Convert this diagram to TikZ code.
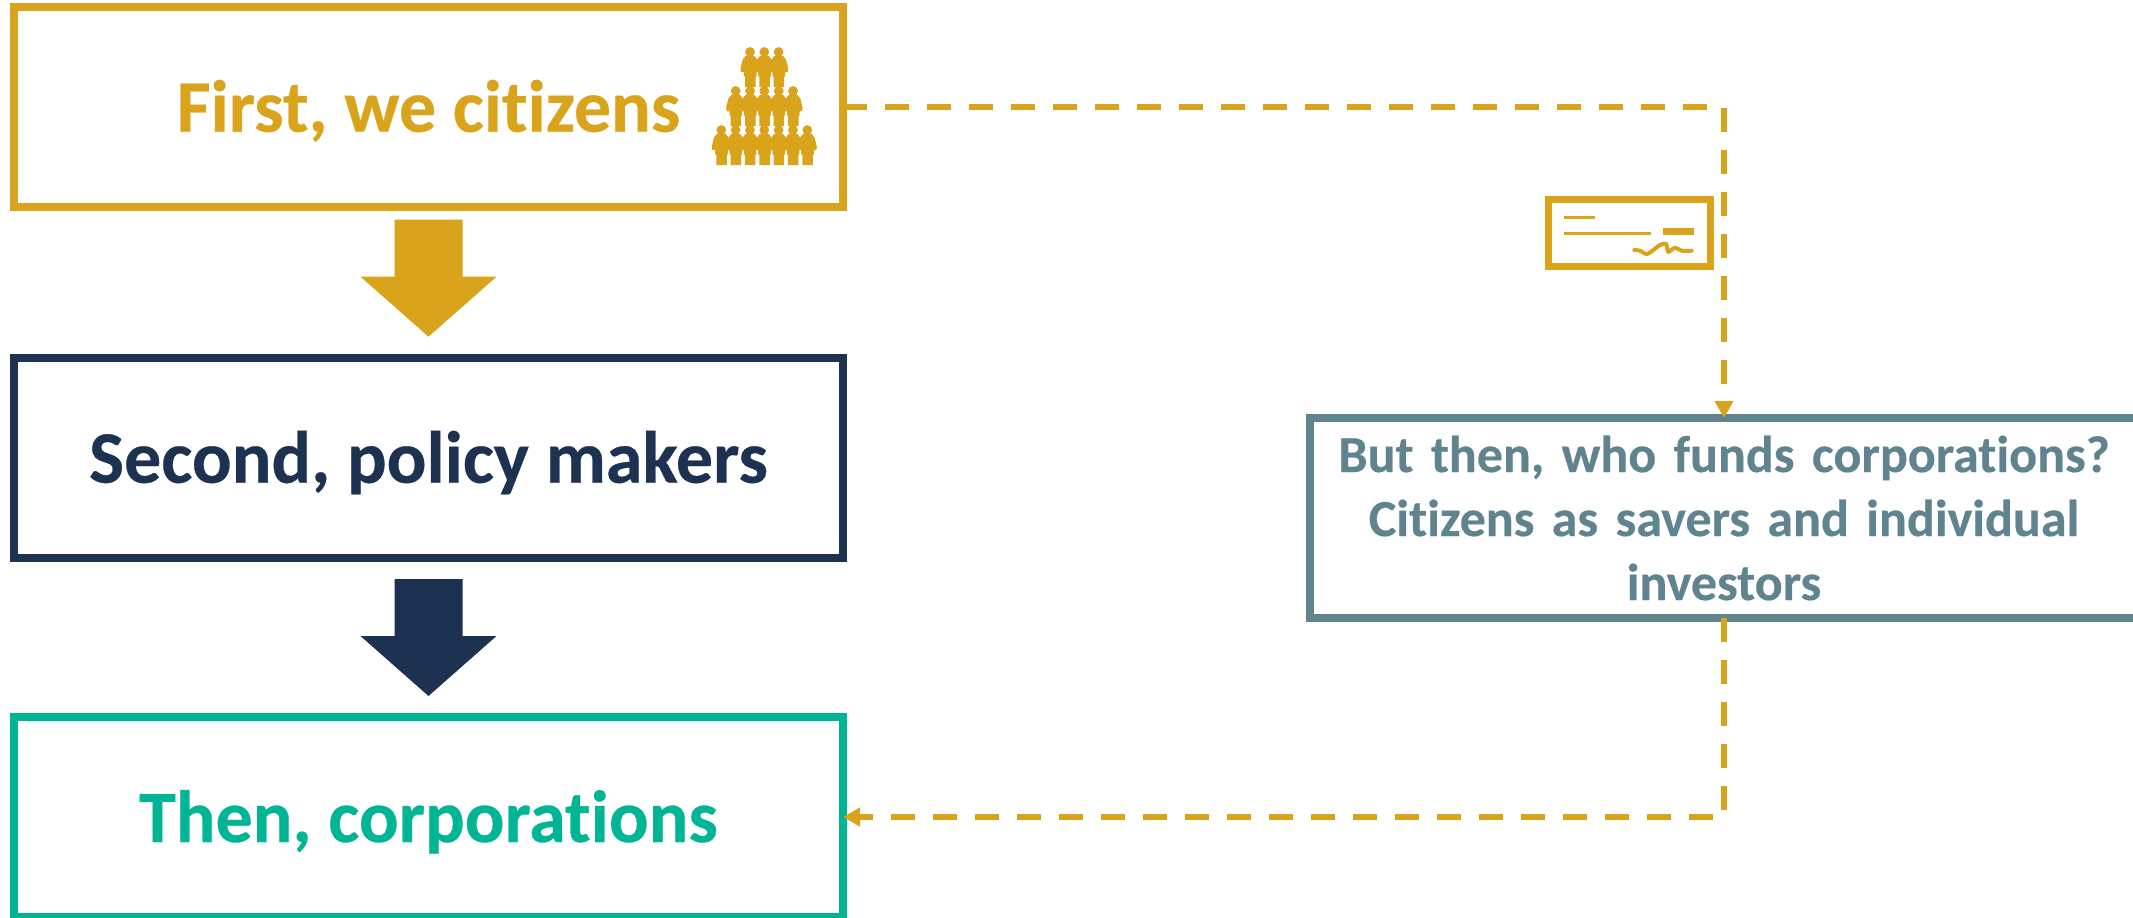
\documentclass[tikz,border=0pt]{standalone}
\usepackage{fontspec}
\usepackage{xcolor}
\usetikzlibrary{arrows.meta}
\setmainfont[Ligatures=CommonOff, BoldFeatures={FakeBold=0.4}]{Carlito}
\definecolor{citizengold}{HTML}{D9A41B}
\definecolor{policynavy}{HTML}{1D3150}
\definecolor{corpteal}{HTML}{00B593}
\definecolor{fundslate}{HTML}{5F8490}
\newcommand{\blockarrow}[2]{
    \fill[#2] ([yshift=10.5pt]#1.north) -- ++(68,-60) -- ++(-34,0) -- ++(0,-57) -- ++(-68,0) -- ++(0,57) -- ++(-34,0) -- cycle;
}
\tikzset{
    flowbox/.style={draw, line width=4pt, outer sep=0pt, minimum width=414.5pt, minimum height=100pt},
    flowtext/.style={font=\bfseries\fontsize{37}{43}\selectfont, text height=25pt, text depth=0pt},
    moneyline/.style={draw=citizengold, line width=3pt, dash pattern=on 12pt off 9pt, -{Triangle[length=8.5pt,width=9pt]}},
    chequemark/.style={draw=citizengold, line width=1.5pt},
    person/.pic={
        \fill[citizengold] (0,0) circle (4.9);
        \fill[citizengold] (-4.5,4) -- (-7.5,8) -- (-9.6,17) -- (-9,20) -- (-6.3,20) -- (-6,24.5) -- (-5,24.5) -- (-5,35) -- (5.5,35) -- (5.5,24.5) -- (6.5,24.5) -- (6.5,20) -- (9,20) -- (9.6,17) -- (7.5,8) -- (4.5,4) -- cycle;
    }
}
\begin{document}
\begin{tikzpicture}[x=0.5pt, y=-0.5pt]
    \useasboundingbox (0,0) rectangle (2133,917);
    \node[flowbox, flowtext, citizengold] (first) at (428.5,106.7) {First, we citizens};
    \node[flowbox, flowtext, policynavy] (second) at (428.5,457.7) {Second, policy makers};
    \node[flowbox, flowtext, corpteal] (corp) at (428.5,817) {Then, corporations};
    \node[flowbox, fundslate, align=center, text width=405pt, font=\bfseries\fontsize{26}{32}\selectfont] (funds) at (1724,518) {But then, who funds corporations?\\Citizens as savers and individual\\investors};
    \blockarrow{second}{citizengold}
    \blockarrow{corp}{policynavy}
    \foreach \px in {0,1,2}
        \pic at (750+14.33*\px,52) {person};
    \foreach \px in {0,1,2,3,4}
        \pic at (735.7+14.33*\px,91) {person};
    \foreach \px in {0,1,2,3,4,5,6}
        \pic at (721.3+14.33*\px,130) {person};
    \draw[draw=citizengold, line width=3.5pt] (1548.5,199.5) rectangle (1710.5,266.5);
    \draw[chequemark] (1564,217) -- (1595,217);
    \draw[chequemark] (1564,233) -- (1651,233);
    \fill[citizengold] (1663,228) rectangle (1694,235);
    \draw[chequemark, line width=2pt, line cap=round] plot[smooth] coordinates {(1634.3,250) (1640,250.7) (1646.7,254) (1653.3,250) (1660,245) (1666,244) (1668.3,251.7) (1675,247.7) (1681.7,250.7) (1691.7,250.7)};
    \draw[moneyline] (first.east) -| (funds.north);
    \draw[moneyline] (funds.south) |- (corp.east);
\end{tikzpicture}
\end{document}
